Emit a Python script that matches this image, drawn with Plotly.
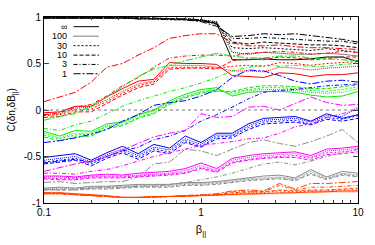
import plotly.graph_objects as go

beta = [0.1, 0.126, 0.158, 0.2, 0.251, 0.316, 0.398, 0.501, 0.631, 0.794, 1.0,
        1.26, 1.58, 2.0, 2.51, 3.16, 3.98, 5.01, 6.31, 7.94, 10.0]

legend_labels = ["∞", "100", "30", "10", "3", "1"]

blk_inf = [0.99,0.99,0.99,0.99,0.99,0.99,0.98,0.98,0.98,0.97,0.96,0.93,0.54,0.54,0.55,0.54,0.54,0.55,0.57,0.57,0.52]
blk_100 = [0.99,0.99,0.99,0.99,0.99,0.99,0.99,0.98,0.98,0.98,0.97,0.95,0.62,0.60,0.62,0.61,0.60,0.60,0.61,0.60,0.58]
blk_30 = [0.99,0.99,0.99,0.99,0.99,0.99,0.99,0.99,0.98,0.98,0.97,0.94,0.67,0.66,0.67,0.66,0.65,0.64,0.66,0.64,0.62]
blk_10 = [0.99,0.99,0.99,0.99,0.99,0.99,0.99,0.99,0.98,0.98,0.97,0.93,0.73,0.71,0.73,0.72,0.71,0.70,0.70,0.69,0.67]
blk_3 = [0.99,0.99,0.99,0.99,0.99,0.99,0.99,0.98,0.98,0.97,0.96,0.92,0.77,0.77,0.78,0.77,0.76,0.75,0.74,0.74,0.71]
blk_1 = [0.99,0.99,0.99,0.99,0.99,0.99,0.98,0.98,0.97,0.97,0.95,0.90,0.79,0.80,0.82,0.81,0.82,0.80,0.78,0.76,0.73]

red_inf = [-0.03,-0.02,0.04,0.04,0.14,0.23,0.31,0.33,0.51,0.50,0.50,0.49,0.37,0.36,0.35,0.40,0.39,0.36,0.38,0.38,0.40]
red_100 = [-0.05,-0.04,0.02,0.03,0.11,0.20,0.28,0.31,0.48,0.48,0.48,0.46,0.42,0.42,0.41,0.46,0.45,0.43,0.45,0.46,0.47]
red_30 = [-0.06,-0.05,0.00,0.01,0.09,0.18,0.26,0.30,0.46,0.46,0.46,0.45,0.47,0.48,0.47,0.51,0.50,0.48,0.50,0.51,0.52]
red_10 = [-0.08,-0.07,-0.02,-0.02,0.07,0.16,0.24,0.28,0.44,0.45,0.45,0.44,0.53,0.55,0.54,0.57,0.56,0.54,0.55,0.57,0.57]
red_3 = [-0.05,-0.03,0.03,0.06,0.15,0.26,0.35,0.46,0.56,0.58,0.59,0.59,0.58,0.61,0.62,0.63,0.62,0.60,0.61,0.63,0.62]
red_1 = [0.09,0.14,0.19,0.30,0.46,0.50,0.59,0.67,0.77,0.80,0.82,0.82,0.72,0.69,0.69,0.70,0.68,0.67,0.67,0.66,0.65]

grn_inf = [-0.23,-0.28,-0.22,-0.23,-0.15,-0.13,-0.05,0.00,0.10,0.17,0.22,0.24,0.15,0.19,0.20,0.20,0.19,0.16,0.14,0.15,0.20]
grn_100 = [-0.25,-0.30,-0.25,-0.25,-0.17,-0.14,-0.06,-0.01,0.08,0.15,0.20,0.22,0.17,0.21,0.22,0.22,0.21,0.19,0.18,0.19,0.23]
grn_30 = [-0.27,-0.31,-0.27,-0.26,-0.18,-0.16,-0.08,-0.03,0.07,0.14,0.19,0.21,0.19,0.22,0.24,0.24,0.23,0.21,0.20,0.22,0.25]
grn_10 = [-0.29,-0.33,-0.29,-0.28,-0.20,-0.17,-0.09,-0.04,0.06,0.13,0.18,0.20,0.20,0.24,0.26,0.26,0.25,0.23,0.23,0.25,0.27]
grn_3 = [-0.20,-0.22,-0.16,-0.12,-0.04,0.04,0.10,0.15,0.20,0.24,0.29,0.35,0.42,0.46,0.48,0.47,0.48,0.47,0.47,0.49,0.50]
grn_1 = [-0.11,-0.07,-0.04,0.04,0.14,0.25,0.36,0.44,0.48,0.53,0.57,0.61,0.58,0.56,0.56,0.58,0.58,0.56,0.55,0.54,0.53]

blu_inf = [-0.51,-0.49,-0.47,-0.54,-0.46,-0.39,-0.47,-0.37,-0.41,-0.28,-0.35,-0.25,-0.25,-0.15,-0.09,-0.08,-0.07,-0.12,-0.04,-0.09,-0.05]
blu_100 = [-0.54,-0.52,-0.50,-0.56,-0.48,-0.42,-0.49,-0.40,-0.43,-0.31,-0.37,-0.27,-0.27,-0.17,-0.11,-0.10,-0.09,-0.13,-0.06,-0.07,0.03]
blu_30 = [-0.56,-0.54,-0.52,-0.58,-0.50,-0.44,-0.51,-0.42,-0.45,-0.33,-0.39,-0.29,-0.28,-0.19,-0.13,-0.12,-0.11,-0.15,-0.08,-0.10,-0.06]
blu_10 = [-0.58,-0.56,-0.54,-0.60,-0.52,-0.46,-0.53,-0.44,-0.47,-0.35,-0.40,-0.31,-0.30,-0.21,-0.15,-0.14,-0.13,-0.16,-0.10,-0.12,-0.09]
blu_3 = [-0.57,-0.55,-0.53,-0.56,-0.50,-0.44,-0.40,-0.32,-0.28,-0.22,-0.12,-0.05,0.03,0.12,0.19,0.21,0.22,0.24,0.26,0.27,0.28]
blu_1 = [-0.35,-0.33,-0.30,-0.26,-0.21,-0.12,-0.05,0.05,0.08,0.10,0.15,0.22,0.35,0.43,0.42,0.37,0.31,0.28,0.31,0.32,0.30]

mag_inf = [-0.71,-0.71,-0.72,-0.70,-0.69,-0.70,-0.68,-0.67,-0.66,-0.63,-0.57,-0.63,-0.52,-0.49,-0.47,-0.46,-0.45,-0.49,-0.42,-0.41,-0.39]
mag_100 = [-0.72,-0.72,-0.73,-0.71,-0.71,-0.71,-0.70,-0.69,-0.68,-0.65,-0.60,-0.65,-0.54,-0.51,-0.49,-0.48,-0.47,-0.51,-0.44,-0.43,-0.41]
mag_30 = [-0.73,-0.74,-0.74,-0.72,-0.72,-0.72,-0.71,-0.70,-0.69,-0.67,-0.62,-0.66,-0.56,-0.53,-0.51,-0.50,-0.49,-0.52,-0.46,-0.45,-0.43]
mag_10 = [-0.74,-0.75,-0.75,-0.73,-0.73,-0.73,-0.72,-0.71,-0.70,-0.68,-0.63,-0.67,-0.57,-0.54,-0.52,-0.51,-0.51,-0.54,-0.48,-0.47,-0.45]
mag_3 = [-0.68,-0.68,-0.69,-0.66,-0.64,-0.60,-0.55,-0.50,-0.46,-0.42,-0.38,-0.36,-0.34,-0.31,-0.30,-0.25,-0.18,-0.15,-0.08,-0.04,0.01]
mag_1 = [-0.66,-0.62,-0.58,-0.55,-0.50,-0.43,-0.36,-0.29,-0.25,-0.22,-0.04,-0.08,-0.07,0.03,0.04,0.00,0.07,0.14,0.08,0.05,0.06]

gry_inf = [-0.84,-0.83,-0.84,-0.82,-0.82,-0.81,-0.80,-0.80,-0.80,-0.78,-0.78,-0.77,-0.75,-0.73,-0.71,-0.70,-0.73,-0.64,-0.72,-0.66,-0.68]
gry_100 = [-0.85,-0.84,-0.85,-0.83,-0.83,-0.82,-0.81,-0.81,-0.81,-0.79,-0.79,-0.78,-0.76,-0.74,-0.73,-0.72,-0.74,-0.66,-0.73,-0.68,-0.70]
gry_30 = [-0.86,-0.85,-0.86,-0.84,-0.84,-0.83,-0.82,-0.82,-0.82,-0.80,-0.80,-0.79,-0.77,-0.75,-0.74,-0.73,-0.75,-0.68,-0.74,-0.69,-0.71]
gry_10 = [-0.86,-0.86,-0.86,-0.85,-0.85,-0.84,-0.83,-0.83,-0.83,-0.81,-0.81,-0.80,-0.78,-0.76,-0.75,-0.74,-0.76,-0.69,-0.75,-0.70,-0.72]
gry_3 = [-0.85,-0.86,-0.85,-0.84,-0.83,-0.83,-0.82,-0.82,-0.80,-0.78,-0.75,-0.72,-0.68,-0.63,-0.58,-0.56,-0.59,-0.55,-0.50,-0.46,-0.42]
gry_1 = [-0.78,-0.77,-0.79,-0.78,-0.77,-0.77,-0.72,-0.58,-0.56,-0.42,-0.44,-0.49,-0.42,-0.35,-0.32,-0.36,-0.39,-0.34,-0.28,-0.21,-0.35]

org_inf = [-0.89,-0.89,-0.90,-0.91,-0.92,-0.94,-0.94,-0.93,-0.93,-0.92,-0.92,-0.91,-0.91,-0.90,-0.90,-0.89,-0.89,-0.88,-0.88,-0.87,-0.87]
org_100 = [-0.90,-0.90,-0.91,-0.92,-0.93,-0.94,-0.94,-0.94,-0.93,-0.93,-0.92,-0.92,-0.91,-0.91,-0.90,-0.90,-0.89,-0.89,-0.88,-0.88,-0.88]
org_30 = [-0.90,-0.90,-0.91,-0.92,-0.93,-0.94,-0.94,-0.94,-0.93,-0.93,-0.92,-0.92,-0.90,-0.89,-0.89,-0.87,-0.88,-0.87,-0.87,-0.86,-0.86]
org_10 = [-0.90,-0.90,-0.91,-0.92,-0.93,-0.94,-0.94,-0.94,-0.93,-0.93,-0.92,-0.91,-0.89,-0.88,-0.88,-0.86,-0.87,-0.86,-0.86,-0.85,-0.84]
org_3 = [-0.90,-0.90,-0.91,-0.92,-0.93,-0.94,-0.94,-0.93,-0.93,-0.92,-0.92,-0.91,-0.88,-0.87,-0.88,-0.81,-0.86,-0.83,-0.83,-0.82,-0.81]
org_1 = [-0.89,-0.89,-0.91,-0.92,-0.93,-0.94,-0.94,-0.93,-0.93,-0.92,-0.91,-0.90,-0.87,-0.86,-0.87,-0.79,-0.85,-0.79,-0.79,-0.78,-0.77]

groups = [
    ("#000000", [blk_inf, blk_100, blk_30, blk_10, blk_3, blk_1]),
    ("#ff0000", [red_inf, red_100, red_30, red_10, red_3, red_1]),
    ("#00ee00", [grn_inf, grn_100, grn_30, grn_10, grn_3, grn_1]),
    ("#0000ff", [blu_inf, blu_100, blu_30, blu_10, blu_3, blu_1]),
    ("#ff00ff", [mag_inf, mag_100, mag_30, mag_10, mag_3, mag_1]),
    ("#8c8c8c", [gry_inf, gry_100, gry_30, gry_10, gry_3, gry_1]),
    ("#ff4500", [org_inf, org_100, org_30, org_10, org_3, org_1]),
]

dashes = ["solid", "1px,1px", "2px,2px", "4px,2px", "4px,2px,1px,2px", "7px,2px,2px,2px"]

fig = go.Figure()
for color, series in groups:
    for ys, dash in zip(series, dashes):
        fig.add_trace(go.Scatter(x=beta, y=ys, mode="lines",
                                 line=dict(color=color, width=1, dash=dash),
                                 showlegend=False, hoverinfo="skip"))

# zero reference line
fig.add_shape(type="line", xref="paper", x0=0, x1=1, yref="y", y0=0, y1=0,
              line=dict(color="#777777", width=1, dash="3px,3px"))

# gnuplot-style key (text then sample)
row_y = [0.948, 0.897, 0.846, 0.795, 0.745, 0.695]
for lab, dash, yy in zip(legend_labels, dashes, row_y):
    fig.add_annotation(x=0.077, y=yy, xref="paper", yref="paper", text=lab,
                       showarrow=False, xanchor="right", yanchor="middle",
                       borderpad=0, font=dict(size=9, color="black"))
    fig.add_shape(type="line", xref="paper", yref="paper", x0=0.094, x1=0.175,
                  y0=yy, y1=yy, line=dict(color="black", width=1, dash=dash))

fig.update_layout(
    width=375, height=245,
    margin=dict(l=38, r=17, t=11, b=42),
    paper_bgcolor="white", plot_bgcolor="white",
    font=dict(family="Liberation Sans, Arial, sans-serif", size=10, color="black"),
    showlegend=False,
)
fig.update_xaxes(type="log", range=[-1, 1], tickvals=[0.1, 1, 10],
                 ticktext=["0.1", "1", "10"], ticks="inside", ticklen=5,
                 showline=True, linecolor="black", linewidth=1, mirror="ticks",
                 showgrid=False, zeroline=False,
                 minor=dict(ticks="inside", ticklen=3,
                            tickvals=[0.2, 0.3, 0.4, 0.5, 0.6, 0.7, 0.8, 0.9,
                                      2, 3, 4, 5, 6, 7, 8, 9], showgrid=False),
                 title=dict(text="β<sub>||</sub>", standoff=8, font=dict(size=11)))
fig.update_yaxes(range=[-1, 1], tickvals=[-1, -0.5, 0, 0.5, 1],
                 ticktext=["-1", "-0.5", "0", "0.5", "1"], ticks="inside", ticklen=5,
                 showline=True, linecolor="black", linewidth=1, mirror="ticks",
                 showgrid=False, zeroline=False,
                 title=dict(text="C(δn,δB<sub>||</sub>)", standoff=6, font=dict(size=10)))

fig.write_html("out.html", config={"displayModeBar": False},
               post_script="document.body.style.margin='0';document.body.style.padding='0';")
